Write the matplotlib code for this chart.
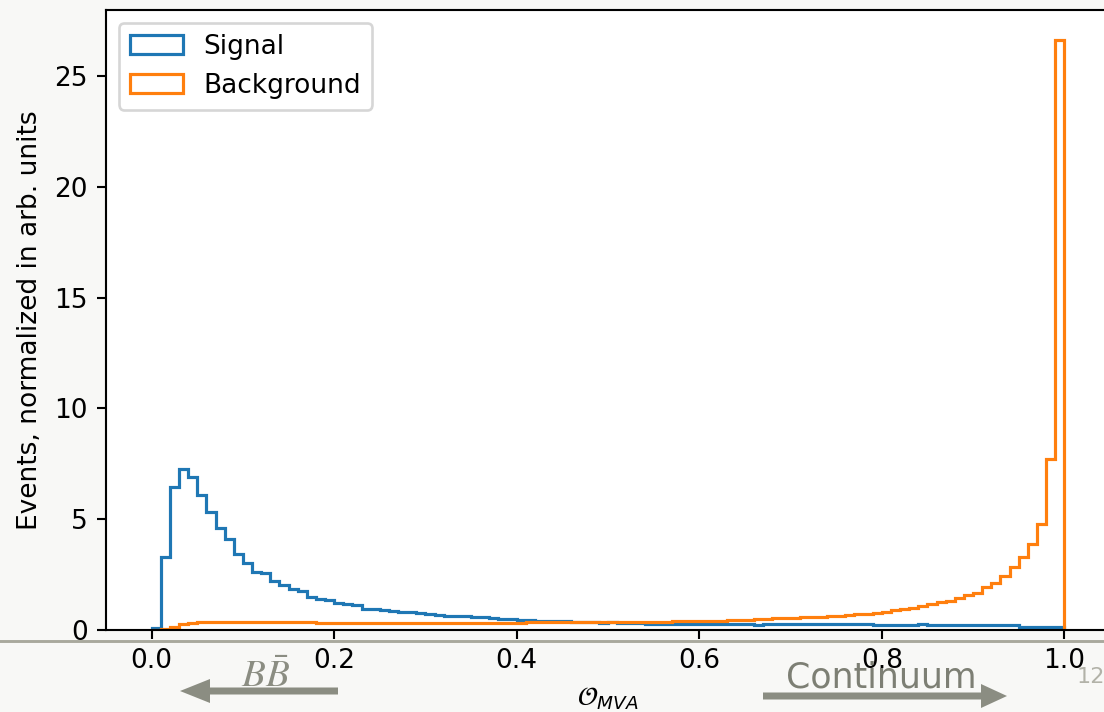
import numpy as np
import matplotlib
matplotlib.use("Agg")
import matplotlib.pyplot as plt
from matplotlib.lines import Line2D
from matplotlib.patches import FancyArrow

# 100 equal-width bins on [0, 1]; bin contents are normalized densities
bin_edges = np.linspace(0.0, 1.0, 101)

signal = [
    0.07, 3.28, 6.47, 7.28, 6.89, 6.09, 5.31, 4.62, 4.09, 3.41,
    3.01, 2.63, 2.56, 2.21, 2.02, 1.85, 1.74, 1.51, 1.41, 1.35,
    1.21, 1.18, 1.12, 0.96, 0.93, 0.90, 0.87, 0.82, 0.82, 0.75,
    0.72, 0.68, 0.62, 0.65, 0.61, 0.59, 0.57, 0.53, 0.51, 0.48,
    0.47, 0.43, 0.41, 0.40, 0.39, 0.39, 0.38, 0.36, 0.35, 0.33,
    0.35, 0.33, 0.31, 0.30, 0.29, 0.27, 0.26, 0.26, 0.27, 0.27,
    0.27, 0.27, 0.27, 0.28, 0.28, 0.28, 0.24, 0.26, 0.26, 0.26,
    0.26, 0.26, 0.26, 0.26, 0.26, 0.26, 0.26, 0.26, 0.29, 0.23,
    0.23, 0.23, 0.23, 0.23, 0.28, 0.23, 0.23, 0.22, 0.22, 0.22,
    0.22, 0.22, 0.22, 0.22, 0.22, 0.15, 0.15, 0.15, 0.15, 0.12,
]

background = [
    0.00, 0.05, 0.14, 0.25, 0.31, 0.34, 0.37, 0.36, 0.36, 0.36,
    0.36, 0.36, 0.36, 0.35, 0.35, 0.35, 0.35, 0.35, 0.32, 0.32,
    0.32, 0.32, 0.32, 0.32, 0.32, 0.32, 0.32, 0.32, 0.32, 0.32,
    0.32, 0.32, 0.33, 0.33, 0.33, 0.33, 0.33, 0.33, 0.33, 0.33,
    0.33, 0.34, 0.34, 0.34, 0.34, 0.34, 0.34, 0.36, 0.36, 0.36,
    0.36, 0.36, 0.36, 0.37, 0.37, 0.37, 0.37, 0.41, 0.41, 0.41,
    0.41, 0.41, 0.42, 0.45, 0.46, 0.47, 0.48, 0.50, 0.52, 0.53,
    0.55, 0.57, 0.58, 0.60, 0.62, 0.65, 0.68, 0.71, 0.74, 0.77,
    0.83, 0.90, 0.93, 1.01, 1.10, 1.17, 1.25, 1.32, 1.43, 1.56,
    1.68, 1.94, 2.14, 2.44, 2.84, 3.31, 3.86, 4.77, 7.71, 26.65,
]

labels = ["Signal", "Background"]

W, H, DPI = 1104, 712, 190
bg = "#f8f8f6"
grey = "#8b8d82"

fig = plt.figure(figsize=(W / DPI, H / DPI), dpi=DPI, facecolor=bg)
ax = fig.add_axes([106 / W, 1 - 630 / H, 1004 / W, 620 / H])
ax.set_facecolor("white")

centers = 0.5 * (bin_edges[:-1] + bin_edges[1:])
ax.hist(centers, bins=bin_edges, weights=signal, histtype="step",
        color="#1f77b4", lw=1.2, label=labels[0])
ax.hist(centers, bins=bin_edges, weights=background, histtype="step",
        color="#ff7f0e", lw=1.2, label=labels[1])

ax.set_xticks([0.0, 0.2, 0.4, 0.6, 0.8, 1.0])
ax.set_ylabel("Events, normalized in arb. units")
ax.set_xlabel(r"$\mathcal{O}_{MVA}$")
ax.legend(loc="upper left")

# slide decorations: rule, direction arrows, captions, page number
fig.add_artist(Line2D([0, 1], [1 - 641 / H, 1 - 641 / H],
                      transform=fig.transFigure, color="#a9a99d", lw=1.1))

over = fig.add_axes([0, 0, 1, 1], facecolor="none")
over.set_xlim(0, W)
over.set_ylim(H, 0)
over.axis("off")
over.add_patch(FancyArrow(338, 691, -158, 0, width=7, head_width=24,
                          head_length=30, length_includes_head=True,
                          color=grey, lw=0))
over.add_patch(FancyArrow(763, 696, 244, 0, width=7, head_width=24,
                          head_length=26, length_includes_head=True,
                          color=grey, lw=0))
over.text(266, 676, r"$B\bar{B}$", fontsize=14.8, color=grey,
          ha="center", va="center", math_fontfamily="stix")
over.text(881, 678, "Continuum", fontsize=13.2, color="#7d7f74",
          ha="center", va="center")
over.text(1091, 677, "12", fontsize=8.5, color="#b2b2a8",
          ha="center", va="center")

fig.savefig("out.png", dpi=DPI, facecolor=bg)
